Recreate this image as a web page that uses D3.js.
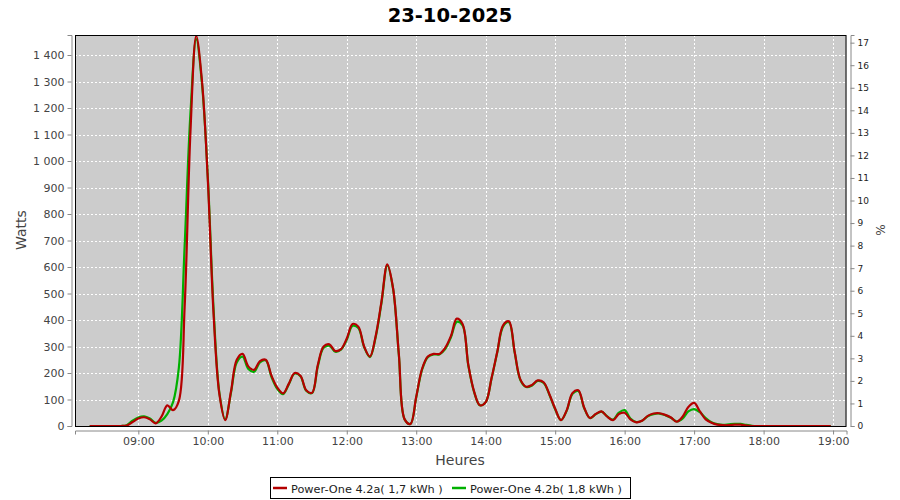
<!DOCTYPE html>
<html>
<head>
<meta charset="utf-8">
<script src="https://cdn.jsdelivr.net/npm/d3@7"></script>
<style>
  html, body { margin: 0; padding: 0; background: #ffffff; }
  svg { display: block; font-family: "DejaVu Sans", sans-serif; }
</style>
</head>
<body>
<svg id="chart" width="900" height="500"></svg>
<script>
// ---- Data ----
const chartTitle = "23-10-2025";
const times = [
  "08:18","08:20","08:25","08:30","08:35","08:40","08:45","08:50","08:55",
  "09:00","09:05","09:10","09:15","09:20","09:25","09:30","09:35","09:40","09:45","09:50","09:55",
  "10:00","10:05","10:10","10:15","10:20","10:25","10:30","10:35","10:40","10:45","10:50","10:55",
  "11:00","11:05","11:10","11:15","11:20","11:25","11:30","11:35","11:40","11:45","11:50","11:55",
  "12:00","12:05","12:10","12:15","12:20","12:25","12:30","12:35","12:40","12:45","12:50","12:55",
  "13:00","13:05","13:10","13:15","13:20","13:25","13:30","13:35","13:40","13:45","13:50","13:55",
  "14:00","14:05","14:10","14:15","14:20","14:25","14:30","14:35","14:40","14:45","14:50","14:55",
  "15:00","15:05","15:10","15:15","15:20","15:25","15:30","15:35","15:40","15:45","15:50","15:55",
  "16:00","16:05","16:10","16:15","16:20","16:25","16:30","16:35","16:40","16:45","16:50","16:55",
  "17:00","17:05","17:10","17:15","17:20","17:25","17:30","17:35","17:40","17:45","17:50","17:55",
  "18:00","18:15","18:30","18:45","18:58"
];
const powerA = [
  0,0,0,0,0,0,0,2,15,
  28,33,25,10,35,78,60,95,450,1110,1472,1300,
  930,420,120,22,130,250,272,225,212,245,250,190,
  145,123,160,200,190,135,125,230,300,308,283,290,
  330,385,375,300,262,340,470,610,520,270,25,8,
  110,215,262,272,272,295,340,405,385,230,130,78,
  90,180,280,380,395,280,175,148,155,172,165,120,
  65,22,60,125,135,70,30,45,55,35,22,45,
  50,25,14,20,38,47,48,42,32,16,35,72,
  87,55,25,12,5,3,3,5,5,2,0,0,
  0,0,0,0,0
];
const powerB = [
  0,0,0,0,0,0,0,3,20,
  32,36,28,12,20,45,90,220,680,1180,1460,1290,
  940,440,125,25,125,240,262,215,205,240,248,185,
  140,120,158,198,188,133,124,225,295,303,280,288,
  325,378,370,298,260,336,465,605,518,268,25,8,
  108,212,260,270,270,290,335,393,380,228,128,78,
  90,178,278,375,392,278,173,147,153,170,163,118,
  63,22,58,122,132,68,30,44,54,36,24,50,
  60,28,15,20,37,45,47,41,31,17,28,55,
  64,52,30,14,7,4,6,8,8,4,1,0,
  0,0,0,0,0
];
const seriesNames = ["Power-One 4.2a( 1,7 kWh )", "Power-One 4.2b( 1,8 kWh )"];
const seriesColors = ["#b40000", "#00b000"];
const wattTicks = [0,100,200,300,400,500,600,700,800,900,1000,1100,1200,1300,1400];
const pctTicks = [0,1,2,3,4,5,6,7,8,9,10,11,12,13,14,15,16,17];
const hourTicks = ["09:00","10:00","11:00","12:00","13:00","14:00","15:00","16:00","17:00","18:00","19:00"];

// ---- Helpers ----
const toDate = s => { const [h, m] = s.split(":").map(Number); return new Date(2025, 9, 23, h, m, 0); };

const svg = d3.select("#chart");
const plot = { left: 75, top: 35, right: 846.5, bottom: 426 };

const x = d3.scaleTime()
  .domain([new Date(2025, 9, 23, 8, 5, 18), new Date(2025, 9, 23, 19, 11, 36)])
  .range([plot.left, plot.right]);
const y = d3.scaleLinear().domain([0, 1475.5]).range([plot.bottom, plot.top]);
const y2 = d3.scaleLinear().domain([0, 17.34]).range([plot.bottom, plot.top]);

const locale = d3.formatLocale({ decimal: ",", thousands: " ", grouping: [3], currency: ["", ""] });
const fmtW = locale.format(",d");

// Title
svg.append("text")
  .attr("x", 450).attr("y", 22)
  .attr("text-anchor", "middle")
  .attr("font-size", 19.5).attr("font-weight", "bold")
  .attr("fill", "#000")
  .text(chartTitle);

// Plot background
svg.append("rect")
  .attr("x", plot.left).attr("y", plot.top)
  .attr("width", plot.right - plot.left).attr("height", plot.bottom - plot.top)
  .attr("fill", "#cccccc");

// Grid lines
const grid = svg.append("g").attr("stroke", "#ffffff").attr("stroke-width", 1).attr("stroke-dasharray", "2,2");
wattTicks.filter(v => v > 0).forEach(v => {
  grid.append("line")
    .attr("x1", plot.left).attr("x2", plot.right)
    .attr("y1", Math.round(y(v)) + 0.5).attr("y2", Math.round(y(v)) + 0.5);
});
hourTicks.forEach(t => {
  const xv = Math.round(x(toDate(t))) + 0.5;
  grid.append("line")
    .attr("x1", xv).attr("x2", xv)
    .attr("y1", plot.top).attr("y2", plot.bottom);
});

// Clip
svg.append("clipPath").attr("id", "clip")
  .append("rect")
  .attr("x", plot.left).attr("y", plot.top)
  .attr("width", plot.right - plot.left).attr("height", plot.bottom - plot.top + 1);

const line = d3.line()
  .x((d, i) => x(toDate(times[i])))
  .y(d => y(d))
  .curve(d3.curveCatmullRom.alpha(0.5));

const lines = svg.append("g").attr("clip-path", "url(#clip)");
lines.append("path").datum(powerB)
  .attr("fill", "none").attr("stroke", seriesColors[1]).attr("stroke-width", 2.2)
  .attr("d", line);
lines.append("path").datum(powerA)
  .attr("fill", "none").attr("stroke", seriesColors[0]).attr("stroke-width", 2.2)
  .attr("d", line);

// Plot outline
svg.append("rect")
  .attr("x", plot.left + 0.5).attr("y", plot.top + 0.5)
  .attr("width", plot.right - plot.left - 1).attr("height", plot.bottom - plot.top)
  .attr("fill", "none").attr("stroke", "#000").attr("stroke-width", 1);

// Axes
function styleAxis(g, color, fontSize) {
  g.selectAll(".domain").attr("stroke", "#888");
  g.selectAll(".tick line").attr("stroke", "#888");
  g.selectAll(".tick text").attr("fill", color).attr("font-size", fontSize)
    .attr("font-family", "DejaVu Sans, sans-serif");
}

const yAxisG = svg.append("g")
  .attr("transform", "translate(71.5,0)")
  .call(d3.axisLeft(y).tickValues(wattTicks).tickFormat(fmtW).tickSizeOuter(0).tickSize(4).tickPadding(3));
styleAxis(yAxisG, "#444", 11);

const y2AxisG = svg.append("g")
  .attr("transform", "translate(850.5,0)")
  .call(d3.axisRight(y2).tickValues(pctTicks).tickFormat(d3.format("d")).tickSizeOuter(0).tickSize(4).tickPadding(3));
styleAxis(y2AxisG, "#222", 9);

const xAxisG = svg.append("g")
  .attr("transform", "translate(0,430.5)")
  .call(d3.axisBottom(x).tickValues(hourTicks.map(toDate)).tickFormat(d3.timeFormat("%H:%M")).tickSizeOuter(0).tickSize(4).tickPadding(3));
styleAxis(xAxisG, "#444", 11);

// Axis labels
svg.append("text")
  .attr("transform", "translate(26,230) rotate(-90)")
  .attr("text-anchor", "middle")
  .attr("font-size", 14).attr("fill", "#444")
  .text("Watts");
svg.append("text")
  .attr("transform", "translate(885,230) rotate(-90)")
  .attr("text-anchor", "middle")
  .attr("font-size", 12).attr("fill", "#444")
  .text("%");
svg.append("text")
  .attr("x", 460).attr("y", 465)
  .attr("text-anchor", "middle")
  .attr("font-size", 14).attr("fill", "#444")
  .text("Heures");

// Legend
const legend = svg.append("g");
legend.append("rect")
  .attr("x", 270.5).attr("y", 477.5).attr("width", 360).attr("height", 21)
  .attr("fill", "#fff").attr("stroke", "#000");
const legendX = [273, 452];
seriesNames.forEach((name, i) => {
  legend.append("line")
    .attr("x1", legendX[i]).attr("x2", legendX[i] + 14)
    .attr("y1", 488).attr("y2", 488)
    .attr("stroke", seriesColors[i]).attr("stroke-width", 2.5);
  legend.append("text")
    .attr("x", legendX[i] + 18).attr("y", 492.5)
    .attr("font-size", 11.3).attr("fill", "#222")
    .text(name);
});
</script>
</body>
</html>
